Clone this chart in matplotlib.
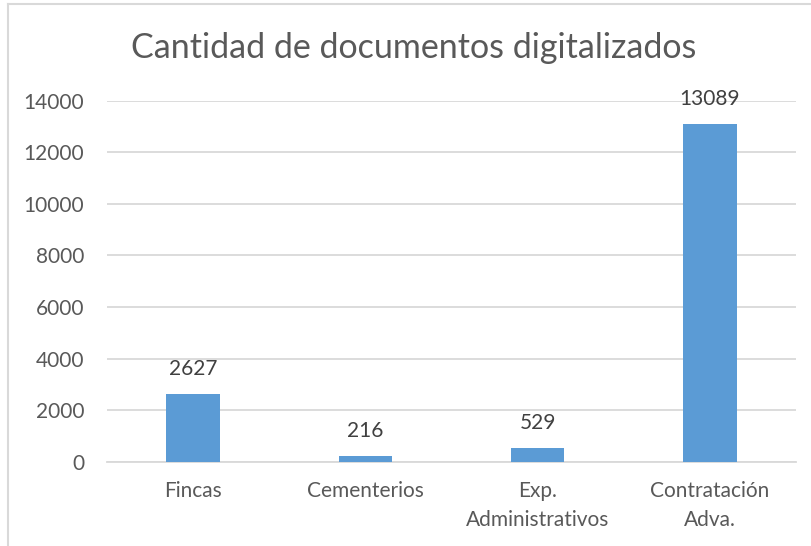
import matplotlib

matplotlib.use("Agg")
import matplotlib.pyplot as plt
from matplotlib.lines import Line2D

categories = ["Fincas", "Cementerios", "Exp.\nAdministrativos", "Contratación\nAdva."]
values = [2627, 216, 529, 13089]
yticks = [0, 2000, 4000, 6000, 8000, 10000, 12000, 14000]

text_color = "#595959"
bar_color = "#5B9BD5"
grid_color = "#D9D9D9"

plt.rcParams["font.family"] = ["Lato", "DejaVu Sans"]

fig = plt.figure(figsize=(8.12, 5.46), dpi=100)
ax = fig.add_axes([107 / 812, 1 - 461.7 / 546, (796 - 107) / 812, (461.7 - 100.7) / 546])

x = range(len(categories))
ax.bar(x, values, width=0.31, color=bar_color, zorder=3)
for xi, v in zip(x, values):
    ax.annotate(str(v), (xi, v), xytext=(0, 11), textcoords="offset points",
                ha="center", va="bottom", fontsize=15, color="#404040")

ax.set_xlim(-0.5, len(categories) - 0.5)
ax.set_ylim(0, 14000)
ax.set_yticks(yticks)
ax.set_yticklabels([str(t) for t in yticks])
ax.set_xticks(list(x))
ax.set_xticklabels(categories, linespacing=1.55)
ax.tick_params(axis="both", length=0, labelsize=15, labelcolor=text_color)
ax.tick_params(axis="y", pad=16.5)
ax.tick_params(axis="x", pad=14)
ax.grid(axis="y", color=grid_color, linewidth=1.3, zorder=0)
for side in ("top", "right", "left"):
    ax.spines[side].set_visible(False)
ax.spines["bottom"].set_color(grid_color)
ax.spines["bottom"].set_linewidth(1.3)

fig.text(414 / 812, 1 - 48 / 546, "Cantidad de documentos digitalizados",
         ha="center", va="center", fontsize=24.5, color=text_color)

# chart frame (cropped at the right and bottom)
for xs, ys in (([8, 8], [4, 546]), ([8, 812], [4, 4])):
    fig.add_artist(Line2D([v / 812 for v in xs], [1 - v / 546 for v in ys],
                          color=grid_color, linewidth=1.5))

fig.savefig("out.png", dpi=100)
